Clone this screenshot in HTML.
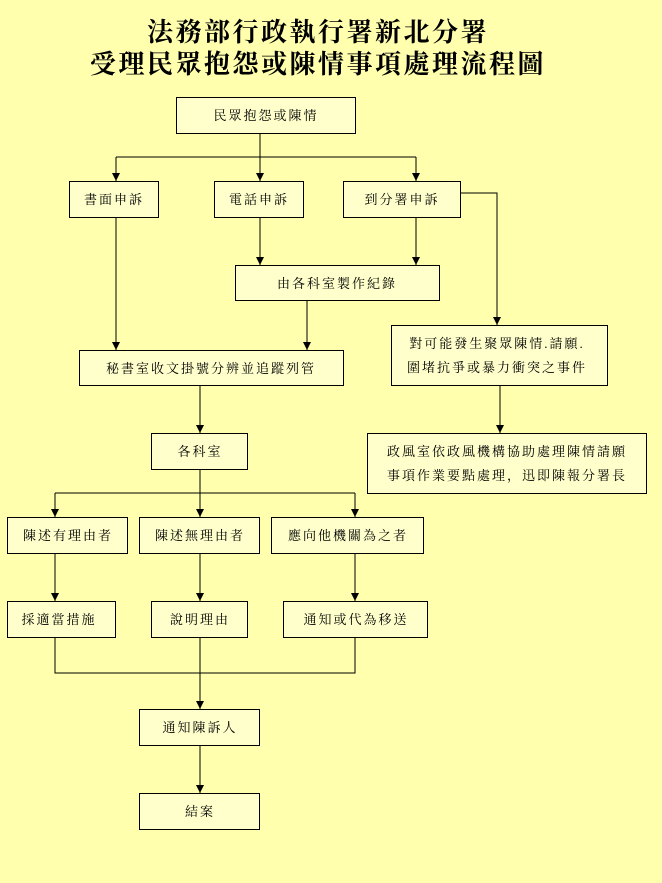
<!DOCTYPE html>
<html><head><meta charset="utf-8"><style>
html,body{margin:0;padding:0;background:#FFFFAE;}
svg{display:block}
text{font-family:"Liberation Serif","Noto Serif CJK SC","Noto Sans CJK TC",serif;fill:#000}
.b{fill:#FFFFCC;stroke:#000;stroke-width:1}
.l{stroke:#000;stroke-width:1;fill:none}
.t{font-size:13px;text-anchor:middle;letter-spacing:2px}
</style></head><body>
<svg width="662" height="883" viewBox="0 0 662 883" xmlns="http://www.w3.org/2000/svg">
<defs><marker id="a" markerWidth="8" markerHeight="8" refX="8" refY="4" orient="auto" markerUnits="userSpaceOnUse"><path d="M0,0 L8,4 L0,8 z" fill="#000"/></marker></defs>
<rect width="662" height="883" fill="#FFFFAE"/>
<text x="318" y="41" font-size="26" font-weight="bold" text-anchor="middle" letter-spacing="2.5">法務部行政執行署新北分署</text>
<text x="318" y="73" font-size="26" font-weight="bold" text-anchor="middle" letter-spacing="2.5">受理民眾抱怨或陳情事項處理流程圖</text>

<path class="l" d="M260,133 V157 M116,157 H416"/>
<path class="l" d="M116,157 V181" marker-end="url(#a)"/>
<path class="l" d="M260,157 V181" marker-end="url(#a)"/>
<path class="l" d="M416,157 V181" marker-end="url(#a)"/>
<path class="l" d="M260,217 V265" marker-end="url(#a)"/>
<path class="l" d="M416,217 V265" marker-end="url(#a)"/>
<path class="l" d="M460,193 H497 V325" marker-end="url(#a)"/>
<path class="l" d="M116,217 V350" marker-end="url(#a)"/>
<path class="l" d="M307,300 V350" marker-end="url(#a)"/>
<path class="l" d="M500,385 V433" marker-end="url(#a)"/>
<path class="l" d="M200,385 V433" marker-end="url(#a)"/>
<path class="l" d="M200,469 V493 M55,493 H355"/>
<path class="l" d="M55,493 V517" marker-end="url(#a)"/>
<path class="l" d="M200,493 V517" marker-end="url(#a)"/>
<path class="l" d="M355,493 V517" marker-end="url(#a)"/>
<path class="l" d="M55,553 V601" marker-end="url(#a)"/>
<path class="l" d="M200,553 V601" marker-end="url(#a)"/>
<path class="l" d="M355,553 V601" marker-end="url(#a)"/>
<path class="l" d="M55,637 V673 H355 V637"/>
<path class="l" d="M200,637 V709" marker-end="url(#a)"/>
<path class="l" d="M200,745 V793" marker-end="url(#a)"/>

<rect class="b" x="176.5" y="97.5" width="179" height="36"/><text class="t" x="266" y="120">民眾抱怨或陳情</text>
<rect class="b" x="69.5" y="181.5" width="89" height="36"/><text class="t" x="114" y="204">書面申訴</text>
<rect class="b" x="214.5" y="181.5" width="89" height="36"/><text class="t" x="259" y="204">電話申訴</text>
<rect class="b" x="343.5" y="181.5" width="117" height="36"/><text class="t" x="402" y="204">到分署申訴</text>
<rect class="b" x="235.5" y="265.5" width="204" height="35"/><text class="t" x="337" y="288">由各科室製作紀錄</text>
<rect class="b" x="79.5" y="350.5" width="264" height="35"/><text class="t" x="211" y="373">秘書室收文掛號分辨並追蹤列管</text>
<rect class="b" x="391.5" y="325.5" width="216" height="60"/>
<text class="t" x="497" y="348">對可能發生聚眾陳情.請願.</text>
<text class="t" x="497" y="372">圍堵抗爭或暴力衝突之事件</text>
<rect class="b" x="367.5" y="433.5" width="279" height="60"/>
<text class="t" x="507" y="456">政風室依政風機構協助處理陳情請願</text>
<text class="t" x="507" y="480">事項作業要點處理，迅即陳報分署長</text>
<rect class="b" x="151.5" y="433.5" width="96" height="36"/><text class="t" x="200" y="456">各科室</text>
<rect class="b" x="7.5" y="517.5" width="120" height="36"/><text class="t" x="68" y="540">陳述有理由者</text>
<rect class="b" x="139.5" y="517.5" width="120" height="36"/><text class="t" x="200" y="540">陳述無理由者</text>
<rect class="b" x="271.5" y="517.5" width="152" height="36"/><text class="t" x="348" y="540">應向他機關為之者</text>
<rect class="b" x="7.5" y="601.5" width="108" height="36"/><text class="t" x="59" y="624">採適當措施</text>
<rect class="b" x="151.5" y="601.5" width="96" height="36"/><text class="t" x="200" y="624">說明理由</text>
<rect class="b" x="283.5" y="601.5" width="144" height="36"/><text class="t" x="356" y="624">通知或代為移送</text>
<rect class="b" x="139.5" y="709.5" width="120" height="36"/><text class="t" x="200" y="732">通知陳訴人</text>
<rect class="b" x="139.5" y="793.5" width="120" height="36"/><text class="t" x="200" y="816">結案</text>
</svg>
</body></html>
